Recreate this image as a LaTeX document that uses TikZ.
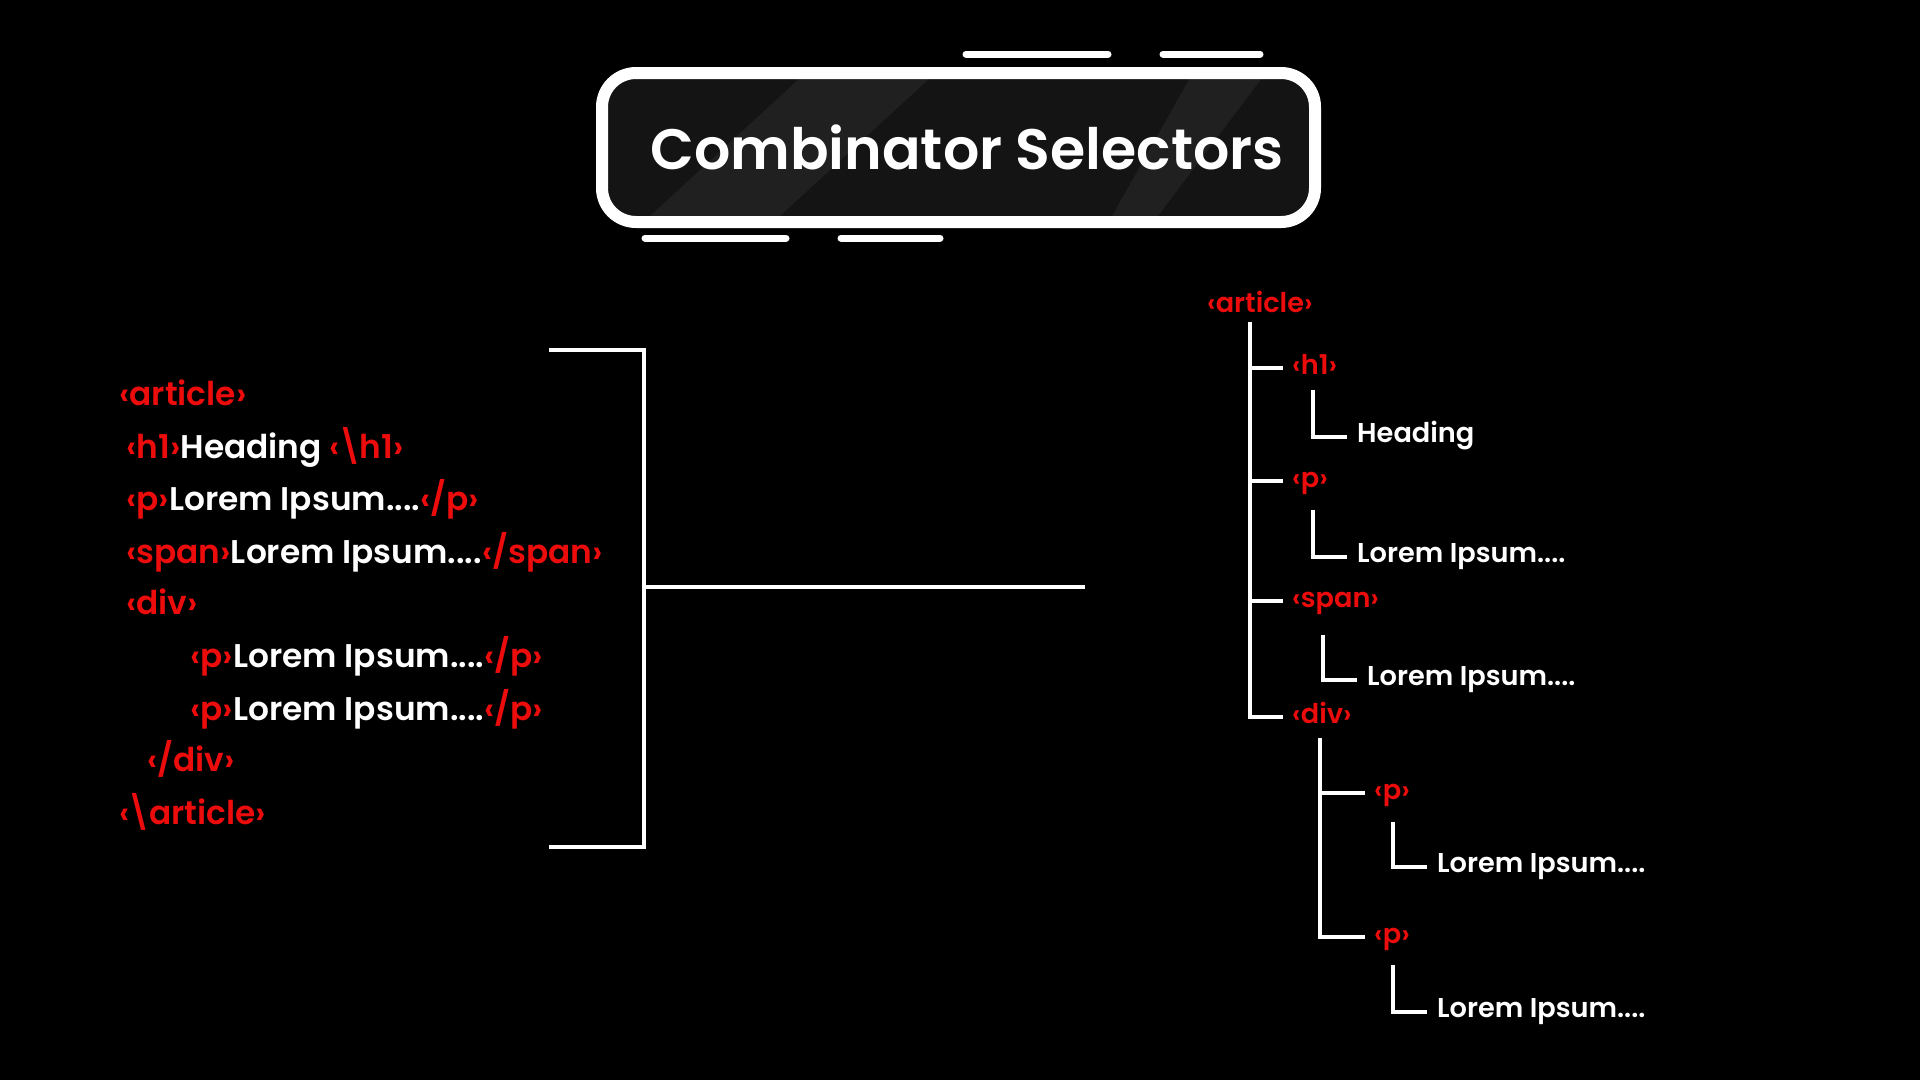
\documentclass[tikz,border=0pt]{standalone}
\usepackage{fontspec}
\setmainfont{Poppins}[BoldFont={Poppins SemiBold}]
\usetikzlibrary{positioning}
\definecolor{htmlred}{RGB}{236,12,12}
\definecolor{panel}{RGB}{20,20,20}
\definecolor{sheen}{RGB}{32,32,32}
\newcommand{\htag}[1]{\textcolor{htmlred}{#1}}
\newcommand{\bsl}{\kern-0.08em\textbackslash\kern-0.08em}

\begin{document}
\begin{tikzpicture}[x=1pt,y=-1pt,
    code/.style={anchor=base west,inner sep=0,text=white,font=\bfseries\fontsize{32.8}{40}\selectfont},
    treetag/.style={anchor=west,inner xsep=9pt,inner ysep=0,text height=1.4em,text depth=0.18em,
      text=htmlred,font=\bfseries\fontsize{27.2}{34}\selectfont},
    leaf/.style={treetag,inner xsep=10pt,text height=1.3em,text depth=0.2em,text=white},
    wire/.style={draw=white,line width=4pt},
    deco/.style={draw=white,line width=7pt,line cap=round}]
    \fill[black] (0,0) rectangle (1920,1080);

    \begin{scope}
      \clip[rounded corners=34pt] (602,73) rectangle (1315,222);
      \fill[panel] (602,73) rectangle (1315,222);
      \fill[sheen] (800,78) -- (930,78) -- (780,216) -- (650,216) -- cycle;
      \fill[sheen] (1190,78) -- (1262,78) -- (1158,216) -- (1112,216) -- cycle;
    \end{scope}
    \draw[white,line width=12pt,rounded corners=34pt] (602,73) rectangle (1315,222);
    \node[anchor=base,inner sep=0,text=white,font=\bfseries\fontsize{57}{68}\selectfont] (title) at (967,169) {Combinator Selectors};
    \draw[deco] (966,54) -- (1108,54);
    \draw[deco] (1163,54) -- (1260,54);
    \draw[deco] (645,238) -- (786,238);
    \draw[deco] (841,238) -- (940,238);

    \node[code] (c1) at (119,405) {\htag{‹article›}};
    \node[code] (c2) at (126,458) {\htag{‹h1›}Heading \htag{‹\bsl h1›}};
    \node[code] (c3) at (126,510) {\htag{‹p›}Lorem Ipsum....\htag{‹/p›}};
    \node[code] (c4) at (126,563) {\htag{‹span›}Lorem Ipsum....\htag{‹/span›}};
    \node[code] (c5) at (126,614) {\htag{‹div›}};
    \node[code] (c6) at (190,667) {\htag{‹p›}Lorem Ipsum....\htag{‹/p›}};
    \node[code] (c7) at (190,720) {\htag{‹p›}Lorem Ipsum....\htag{‹/p›}};
    \node[code] (c8) at (147,771) {\htag{‹/div›}};
    \node[code] (c9) at (119,824) {\htag{‹\bsl article›}};

    \coordinate (bt) at (549,350);
    \coordinate (bb) at (549,847);
    \coordinate (bm) at (644,587);
    \coordinate (bend) at (1085,587);
    \draw[wire] (bt) -- (644,350) -- (644,847) -- (bb);
    \draw[wire] (bm) -- (bend);

    \node[treetag] (tart) at (1198,306) {‹article›};
    \node[treetag] (th1) at (1283,368) {‹h1›};
    \node[treetag] (tp) at (1283,481) {‹p›};
    \node[treetag] (tspan) at (1283,601) {‹span›};
    \node[treetag] (tdiv) at (1283,717) {‹div›};
    \node[treetag] (tp1) at (1365,793) {‹p›};
    \node[treetag] (tp2) at (1365,937) {‹p›};

    \node[leaf] (hd) at (1347,437) {Heading};
    \node[leaf] (lp) at (1347,557) {Lorem Ipsum....};
    \node[leaf] (lspan) at (1357,680) {Lorem Ipsum....};
    \node[leaf] (lp1) at (1427,867) {Lorem Ipsum....};
    \node[leaf] (lp2) at (1427,1012) {Lorem Ipsum....};

    \coordinate (trunk) at (1250,322);
    \coordinate (subtrunk) at (1320,738);
    \draw[wire] (trunk) |- (tdiv.west);
    \draw[wire] (th1.west -| trunk) -- (th1.west);
    \draw[wire] (tp.west -| trunk) -- (tp.west);
    \draw[wire] (tspan.west -| trunk) -- (tspan.west);
    \draw[wire] (subtrunk) |- (tp2.west);
    \draw[wire] (tp1.west -| subtrunk) -- (tp1.west);

    \coordinate (hdtop) at (1313,390);
    \coordinate (lptop) at (1313,510);
    \coordinate (lspantop) at (1323,635);
    \coordinate (lp1top) at (1393,822);
    \coordinate (lp2top) at (1393,965);
    \draw[wire] (hdtop) |- (hd.west);
    \draw[wire] (lptop) |- (lp.west);
    \draw[wire] (lspantop) |- (lspan.west);
    \draw[wire] (lp1top) |- (lp1.west);
    \draw[wire] (lp2top) |- (lp2.west);
  \end{tikzpicture}
\end{document}
